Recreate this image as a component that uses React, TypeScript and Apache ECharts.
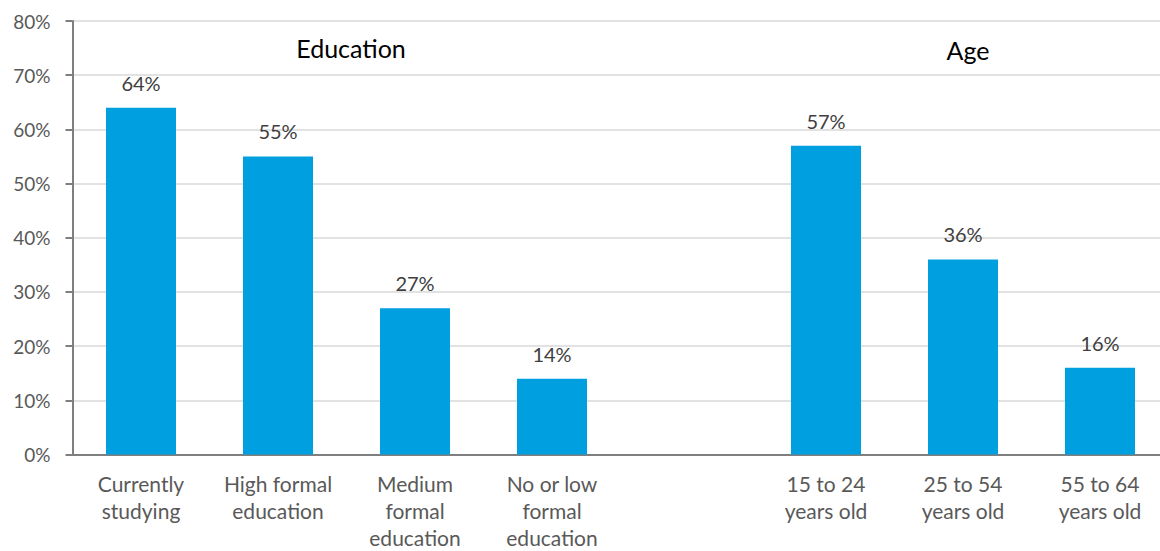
import React, { useEffect, useRef } from "react";
import * as echarts from "echarts";

const categories = [
  "Currently\nstudying",
  "High formal\neducation",
  "Medium\nformal\neducation",
  "No or low\nformal\neducation",
  "",
  "15 to 24\nyears old",
  "25 to 54\nyears old",
  "55 to 64\nyears old",
];
const values: (number | null)[] = [64, 55, 27, 14, null, 57, 36, 16];
const groupTitles = ["Education", "Age"];

const FONT = "Lato, 'Open Sans', sans-serif";

export default function App() {
  const ref = useRef<HTMLDivElement>(null);
  useEffect(() => {
    if (!ref.current) return;
    const chart = echarts.init(ref.current, undefined, { renderer: "svg" });
    chart.setOption({
      animation: false,
      textStyle: { fontFamily: FONT },
      grid: {
        left: 72.5,
        top: 21,
        width: 1096,
        height: 433.5,
        containLabel: false,
        outerBoundsMode: "none",
      },
      graphic: [
        {
          type: "text",
          x: 351,
          y: 48,
          style: {
            text: groupTitles[0],
            font: `25px ${FONT}`,
            fill: "#000",
            align: "center",
            verticalAlign: "middle",
          },
        },
        {
          type: "text",
          x: 968,
          y: 50,
          style: {
            text: groupTitles[1],
            font: `25px ${FONT}`,
            fill: "#000",
            align: "center",
            verticalAlign: "middle",
          },
        },
      ],
      xAxis: {
        type: "category",
        data: categories,
        axisLine: { lineStyle: { color: "#7f7f7f", width: 2 } },
        axisTick: { show: false },
        axisLabel: {
          interval: 0,
          color: "#595959",
          fontSize: 21,
          lineHeight: 27,
          margin: 15,
          fontFamily: FONT,
        },
      },
      yAxis: {
        type: "value",
        min: 0,
        max: 80,
        interval: 10,
        axisLine: { show: true, lineStyle: { color: "#7f7f7f", width: 2 } },
        axisTick: { show: true, length: 7, lineStyle: { color: "#7f7f7f", width: 2 } },
        splitLine: { lineStyle: { color: "#d9d9d9", width: 1.5 } },
        axisLabel: {
          formatter: "{value}%",
          color: "#595959",
          fontSize: 19,
          margin: 22,
          fontFamily: FONT,
        },
      },
      series: [
        {
          type: "bar",
          data: values,
          barWidth: 70,
          itemStyle: { color: "#009FDF" },
          label: {
            show: true,
            position: "top",
            distance: 15,
            formatter: (p: any) => `${p.value}%`,
            color: "#404040",
            fontSize: 20,
            fontFamily: FONT,
          },
        },
      ],
    });
    return () => chart.dispose();
  }, []);
  return (
    <div
      ref={ref}
      style={{
        position: "absolute",
        left: 0,
        top: 0,
        width: 1160,
        height: 551,
        overflow: "hidden",
      }}
    />
  );
}
